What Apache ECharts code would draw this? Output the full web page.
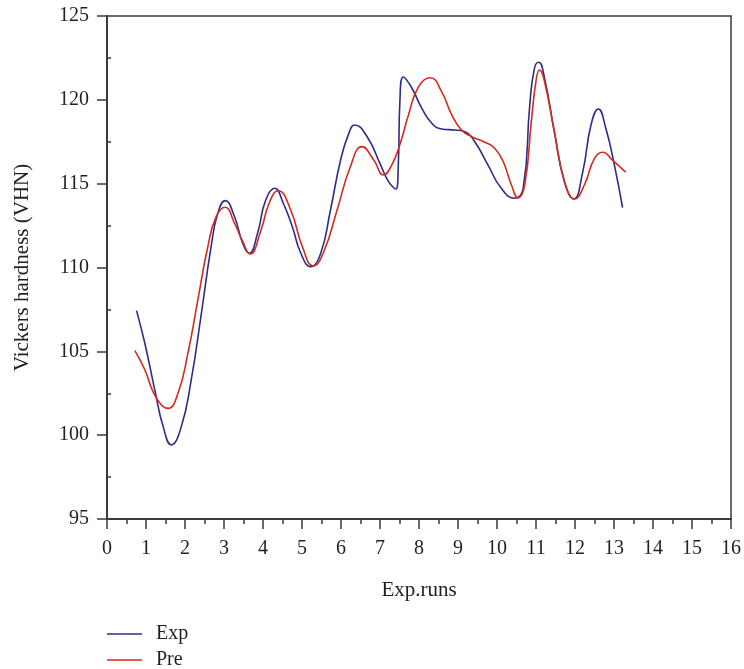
<!DOCTYPE html>
<html>
<head>
<meta charset="utf-8">
<script src="https://cdn.jsdelivr.net/npm/echarts@6/dist/echarts.min.js"></script>
<style>
  html, body { margin: 0; padding: 0; background: #fff; }
  #chart { width: 744px; height: 669px; }
</style>
</head>
<body>
<div id="chart"></div>
<script>
// values (x = run position, y = VHN)
const expX = [0.757, 0.97, 1.225, 1.44, 1.65, 1.905, 2.16, 2.42, 2.67, 2.84, 3.03, 3.27, 3.48, 3.65, 3.86, 4.07, 4.3, 4.52, 4.75, 4.97, 5.22, 5.48, 5.73, 5.99, 6.2, 6.35, 6.67, 7.0, 7.22, 7.41, 7.47, 7.51, 7.6, 7.82, 8.07, 8.33, 8.58, 8.92, 9.18, 9.43, 9.77, 10.11, 10.45, 10.67, 10.84, 10.96, 11.07, 11.22, 11.47, 11.73, 11.97, 12.2, 12.41, 12.6, 12.79, 13.01, 13.22];
const expY = [107.43, 105.48, 102.7, 100.51, 99.42, 100.51, 103.3, 107.27, 111.24, 113.23, 113.99, 113.03, 111.44, 110.85, 112.04, 114.03, 114.73, 113.83, 112.44, 110.85, 110.05, 110.85, 113.43, 116.41, 118.0, 118.5, 117.8, 116.2, 115.12, 114.68, 116.2, 119.9, 121.36, 120.69, 119.5, 118.6, 118.26, 118.2, 118.1, 117.5, 116.11, 114.72, 114.13, 114.72, 119.69, 121.88, 122.24, 121.28, 118.1, 115.12, 114.09, 115.72, 118.5, 119.45, 118.3, 116.11, 113.57];
const preX = [0.714, 0.97, 1.18, 1.395, 1.565, 1.82, 2.075, 2.33, 2.585, 2.8, 3.03, 3.27, 3.47, 3.67, 3.95, 4.16, 4.39, 4.71, 5.01, 5.29, 5.56, 5.9, 6.24, 6.54, 6.84, 7.09, 7.3, 7.52, 7.73, 7.99, 8.29, 8.58, 8.84, 9.09, 9.35, 9.69, 9.94, 10.16, 10.37, 10.54, 10.71, 10.88, 11.01, 11.09, 11.22, 11.47, 11.73, 11.99, 12.24, 12.5, 12.71, 12.96, 13.3];
const preY = [105.04, 103.9, 102.6, 101.8, 101.6, 102.5, 104.89, 108.07, 111.24, 113.03, 113.59, 112.64, 111.6, 110.81, 112.24, 113.85, 114.58, 113.43, 111.24, 110.09, 110.95, 113.43, 116.01, 117.21, 116.41, 115.52, 116.11, 117.41, 119.1, 120.79, 121.32, 120.49, 119.1, 118.2, 117.8, 117.47, 117.11, 116.31, 114.92, 114.17, 114.92, 118.7, 121.28, 121.78, 121.08, 118.1, 115.12, 114.09, 114.92, 116.51, 116.87, 116.41, 115.68];

const FONT = "'Liberation Serif', 'Times New Roman', serif";
const TXT = '#231f20';
const EXP_COLOR = '#2d2d88';
const PRE_COLOR = '#d42a1f';

const chart = echarts.init(document.getElementById('chart'));

const zip = (xs, ys) => xs.map((x, i) => [x, ys[i]]);

// one legend per row, drawn as a plain line + label
const legendRow = (name, top) => ({
  left: 102, top: top,
  icon: 'rect',
  itemWidth: 35, itemHeight: 1.5,
  textStyle: { fontFamily: FONT, fontSize: 20, color: TXT, padding: [0, 0, 0, 9] },
  data: [name]
});

chart.setOption({
  animation: false,
  grid: {
    left: 107, top: 16, right: 10, bottom: 150,
    show: true,
    borderColor: '#3a3a3a',
    borderWidth: 1.5
  },
  legend: [legendRow('Exp', 619), legendRow('Pre', 645)],
  xAxis: {
    type: 'value',
    min: 0, max: 16, interval: 1,
    name: 'Exp.runs',
    nameLocation: 'middle',
    nameGap: 61,
    nameTextStyle: { fontFamily: FONT, fontSize: 21, color: TXT },
    axisLine: { lineStyle: { color: '#3a3a3a', width: 2 } },
    axisTick: { length: 10, lineStyle: { color: '#3a3a3a', width: 1.5 } },
    minorTick: { show: true, splitNumber: 2, length: 5, lineStyle: { color: '#3a3a3a', width: 1.5 } },
    axisLabel: { margin: 20, fontFamily: FONT, fontSize: 20, color: TXT },
    splitLine: { show: false }
  },
  yAxis: [{
    type: 'value',
    min: 95, max: 125, interval: 5,
    name: 'Vickers hardness (VHN)',
    nameLocation: 'middle',
    nameGap: 74,
    nameTextStyle: { fontFamily: FONT, fontSize: 21, color: TXT },
    axisLine: { lineStyle: { color: '#3a3a3a', width: 2 } },
    axisTick: { length: 10, lineStyle: { color: '#3a3a3a', width: 1.5 } },
    axisLabel: { margin: 18, fontFamily: FONT, fontSize: 20, color: TXT },
    splitLine: { show: false }
  }, {
    // second copy only for the small inside minor ticks
    type: 'value',
    position: 'left',
    min: 95, max: 125, interval: 5,
    axisLine: { show: false },
    axisTick: { show: false, inside: true },
    minorTick: { show: true, splitNumber: 2, length: 4, lineStyle: { color: '#3a3a3a', width: 1.5 } },
    axisLabel: { show: false },
    splitLine: { show: false }
  }],
  series: [{
    name: 'Exp',
    type: 'line',
    smooth: 0.5,
    symbol: 'none',
    color: EXP_COLOR,
    lineStyle: { color: EXP_COLOR, width: 1.6 },
    data: zip(expX, expY)
  }, {
    name: 'Pre',
    type: 'line',
    smooth: 0.5,
    symbol: 'none',
    color: PRE_COLOR,
    lineStyle: { color: PRE_COLOR, width: 1.6 },
    data: zip(preX, preY)
  }]
});
</script>
</body>
</html>
